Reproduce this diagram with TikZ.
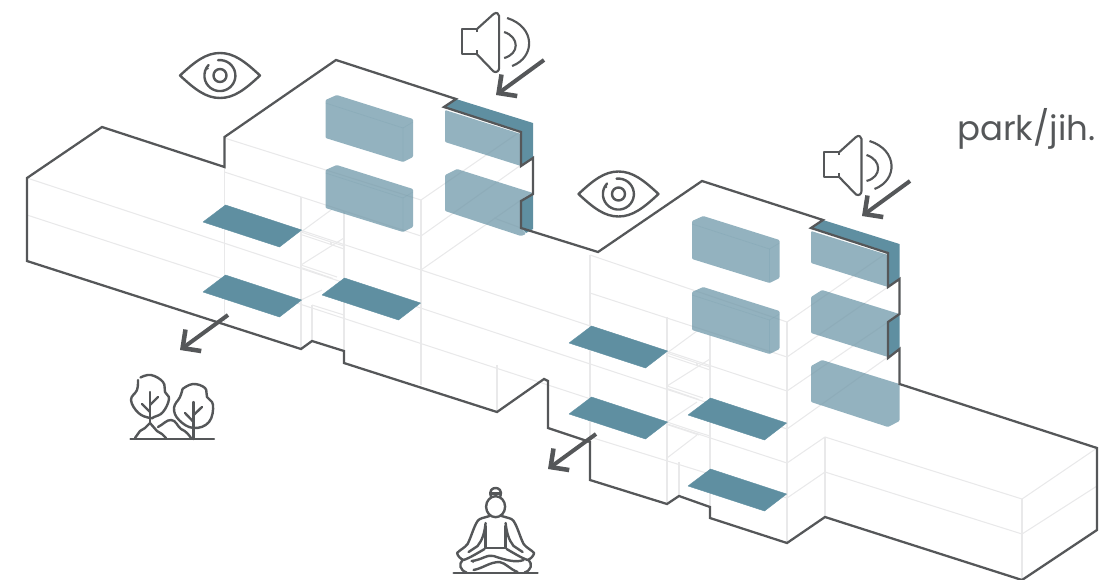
\documentclass[tikz,border=0pt]{standalone}
\usepackage{fontspec}
\setmainfont{Poppins}
\usetikzlibrary{arrows.meta}
\definecolor{ink}{HTML}{555759}
\definecolor{thin}{HTML}{E9E9EA}
\definecolor{slabc}{HTML}{5F8FA1}
\definecolor{panelc}{HTML}{6F98A9}
\newcommand{\halfbody}{%
    \draw[icon] (-6,516) .. controls (-12,518) and (-16,518) .. (-18,521) .. controls (-22,527) and (-24,536) .. (-28,544)
      .. controls (-31,548) and (-36,550) .. (-38.5,553) .. controls (-38,556) and (-35,559) .. (-32,560)
      .. controls (-26,558) and (-18,553) .. (-11,549);
    \draw[icon] (-10,523) .. controls (-11,532) and (-13,540) .. (-18,546) -- (-27,552);
    \draw[icon] (-10,526) -- (-10,548) -- (0,548);
    \draw[icon] (-33,560) .. controls (-37,564) and (-36,570) .. (-29,572.5);
}
\tikzset{
  outline/.style={draw=ink,line width=1.7pt,line join=miter},
  thinline/.style={draw=thin,line width=0.8pt},
  slab/.style={fill=slabc,draw=slabc,line width=0.3pt,line join=round},
  panel/.style={fill=panelc,fill opacity=0.75,draw=none,rounded corners=0.8pt},
  dark/.style={fill=slabc,draw=none},
  edge/.style={draw=slabc,draw opacity=0.15,line width=0.5pt},
  icon/.style={draw=ink,line width=1.8pt,line cap=round,line join=round,fill=none},
  icon2/.style={draw=ink,line width=1.6pt,line join=round,fill=none},
  pointer/.style={draw=ink,line width=3pt,-{Straight Barb[length=10pt,width=20pt,line width=3.4pt]}},
  eyeicon/.pic={
    \draw[icon] (-40,0) .. controls (-25,-14) and (-14,-22.5) .. (0,-22.5) .. controls (14,-22.5) and (25,-14) .. (40,0)
      .. controls (25,14) and (14,22.5) .. (0,22.5) .. controls (-14,22.5) and (-25,14) .. (-40,0) -- cycle;
    \draw[icon] (0,0) circle (6.5);
    \draw[icon] (-2,-15.3) arc[start angle=-97,end angle=-97+320,radius=15.5];
    \fill[ink] (-12.3,-7) circle (1.2);
  },
  speakericon/.pic={
    \draw[icon2] (15.4,3) -- (15.4,0) -- (0,0) -- (0,25.3) -- (15.4,25.3) -- (15.4,21);
    \draw[icon2] (15.4,0) -- (32,-15) .. controls (35,-17.5) and (37.5,-15) .. (37.5,-13) -- (37.5,39)
      .. controls (37.5,42) and (35,44) .. (32,42.5) -- (15.4,25.3);
    \draw[icon2] (42.5,3) .. controls (58,8) and (58,25) .. (42.5,29);
    \draw[icon2] (45.5,-11) .. controls (74,-2) and (74,28) .. (50.5,37);
  },
  treesicon/.pic={
    \draw[icon] (130.5,439) -- (214,439);
    \draw[icon] plot[smooth,tension=0.7] coordinates {(140.5,377.5) (151,375) (163,382) (165,392) (169,399) (163,412) (154,417) (150,418) (138.5,413) (131,400) (137,390) (138,380)};
    \draw[icon] (150,392) -- (150,423);
    \draw[icon] (150,412) -- (142,404);
    \draw[icon] (150,405) -- (158,397);
    \draw[icon] plot[smooth,tension=0.7] coordinates {(182.5,389) (193,384) (205,388) (207,397) (213,405) (209,422) (193.6,428) (179,420) (174,408) (180,397) (182.5,389)};
    \draw[icon] (193.6,402) -- (193.6,439);
    \draw[icon] (193.6,422) -- (185,413);
    \draw[icon] (193.6,415) -- (202,407);
    \draw[icon] (135,438) -- (140,431) -- (145,428) -- (150,423) -- (157,431) -- (162,434) -- (166,438);
    \draw[icon] (158,427) .. controls (164,424) and (166,420) .. (171,420) .. controls (176,420) and (177,426) .. (181,429) .. controls (186,431) and (189,435) .. (191,438);
  },
  personicon/.pic={
    \draw[icon] (-42,572.7) -- (42,572.7);
    \draw[icon] (0,506.7) ellipse (9.5 and 10.5);
    \draw[icon] (-4.5,497) .. controls (-7,490) and (-3,488) .. (0,488) .. controls (3,488) and (7,490) .. (4.5,497);
    \draw[icon] (-5,493.5) -- (5,493.5);
    \halfbody
    \begin{scope}[xscale=-1]\halfbody\end{scope}
    \draw[icon] (-24,561) .. controls (-14,560) and (-8,554) .. (-2,556) .. controls (10,560) and (20,563) .. (28,560);
    \draw[icon] (-22,570) .. controls (-12,568) and (-6,562) .. (4,562) .. controls (10,563) and (14,569) .. (22,572);
    \fill[ink] (-22.5,562) circle (1);
  }
}
\newcommand{\towerslants}{%
  \foreach \yy/\ex/\ey in {232/331/210,265/344/238}{
    \draw[thinline] (301,\yy) -- (\ex,\ey);
  }
  \draw[thinline] (301,232) -- (331,242) -- (344,246);
  \draw[thinline] (301,234.5) -- (331,244.5) -- (344,249);
  \draw[thinline] (331,242) -- (331,244.5);
  \draw[thinline] (301,265) -- (337,277);
  \draw[thinline] (301,267.5) -- (333,278.5);
}
\begin{document}
\begin{tikzpicture}[x=0.75pt,y=-0.75pt]
\useasboundingbox (0,0) rectangle (1099,579);
% ---- thin construction lines
\foreach \a/\b/\c/\d in {
  224.5/138/421/200, 421/200/521/131,
  224.5/172/421/236, 421/236/521/165,
  224.5/205/787/391, 421/270/521/200,
  27/178/787/429, 27/215/787/463,
  494/218/521/228,
  224.5/138/224.5/322, 301/197/301/349, 312/305/312/341, 344/211/344/351,
  421/200/421/385, 497/365/497/412,
  590/255/787/322, 787/322/888/252,
  590/293/787/357, 787/357/888/287,
  787/391/888/322, 787/429/888/357,
  590/437/787/498, 787/463/825/437, 787/498/825/472,
  825/437/1022/499, 825/472/1022/534, 1022/499/1097/448, 1022/534/1097/486,
  590/255/590/480, 667/317/667/504, 679/462/679/496, 710/335/710/507, 787/322/787/543,
  825/437/825/517, 1022/499/1022/579,
  312/305/344/315, 301/300/322/290}{
  \draw[thinline] (\a,\b) -- (\c,\d);
}
\towerslants
\begin{scope}[shift={(366,121)}]\towerslants\end{scope}
\begin{scope}[shift={(366,190)}]
  \draw[thinline] (301,232) -- (331,212);
  \draw[thinline] (301,232) -- (331,242) -- (344,246);
  \draw[thinline] (301,234.5) -- (333,245);
\end{scope}
\draw[thinline] (667,458) -- (697,435);
% ---- slabs
\foreach \dx/\dy in {0/0,0/70,119/73,366/121,366/192,485/193,485/264}{
  \begin{scope}[shift={(\dx,\dy)}]
    \filldraw[slab] (203,222) -- (225.5,205) -- (301.6,230) -- (279.5,247) -- cycle;
  \end{scope}
}
% ---- dark wall faces behind the panels
\fill[dark] (456,99) -- (533,123) -- (533,158) -- (521,166) -- (521,131) -- (444,107) -- cycle;
\fill[dark] (521,201) -- (533,194) -- (533,229) -- (526,233) -- (521,228) -- cycle;
\fill[dark] (823,220) -- (899.5,244) -- (899.5,279) -- (888,287) -- (888,252) -- (811,228) -- cycle;
\fill[dark] (888,322) -- (899.5,314) -- (899.5,349) -- (888,357) -- cycle;
% ---- translucent panels
\foreach \dx/\dy in {0/0,0/70,366.5/121,366.5/192}{
  \begin{scope}[shift={(\dx,\dy)}]
    \fill[panel] (325.5,100) -- (336.7,95) -- (413,119) -- (413,157) -- (403,162) -- (325.5,138) -- cycle;
    \draw[edge] (325.5,103) -- (403,128) -- (403,162);
    \draw[edge] (403,128) -- (413,122);
  \end{scope}
}
\fill[panel] (445,110) -- (521,134) -- (521,166) -- (445,142) -- cycle;
\fill[panel] (445,175) -- (457,169) -- (533,193) -- (521,201) -- (521,228) -- (526,234) -- (521,236) -- (445,211) -- cycle;
\fill[panel] (811,231) -- (888,255) -- (888,287) -- (811,263) -- cycle;
\fill[panel] (811,297) -- (822,290) -- (899.5,314) -- (888,322) -- (888,357) -- (811,333) -- cycle;
\fill[panel] (811,366) -- (822,360) -- (899.5,384) -- (899.5,421) -- (888,427) -- (811,402) -- cycle;
% ---- building outline
\draw[outline] (27,178) -- (102,127) -- (224.5,167) -- (224.5,137) -- (336,60) -- (456,99) -- (444,107)
  -- (521,132) -- (521,166) -- (533,158) -- (533,194) -- (521,201) -- (521,228) -- (598,252)
  -- (702,181) -- (823,220) -- (811,228) -- (888,253) -- (888,287) -- (899.5,279) -- (899.5,314)
  -- (888,322) -- (888,358) -- (899.5,349) -- (899.5,384) -- (1097,448) -- (1097,530) -- (1022,580)
  -- (825,517) -- (787,543) -- (710,518) -- (710,507) -- (679,496) -- (667,504) -- (590,480)
  -- (590,442) -- (548,428) -- (548,381) -- (544,379) -- (497,412) -- (344,363) -- (344,351)
  -- (312,341) -- (301,349) -- (27,261) -- cycle;
% ---- icons
\pic at (220,75.5) {eyeicon};
\pic at (618.5,194) {eyeicon};
\pic at (461.6,29) {speakericon};
\pic at (824,152) {speakericon};
\pic at (0,0) {treesicon};
\pic at (495.6,0) {personicon};
% ---- arrows
\coordinate (a1s) at (544,60);  \coordinate (a1e) at (496,95);
\coordinate (a2s) at (910,181); \coordinate (a2e) at (862,216);
\coordinate (a3s) at (228,315); \coordinate (a3e) at (180,350);
\coordinate (a4s) at (596,434); \coordinate (a4e) at (548,469);
\draw[pointer] (a1s) -- (a1e);
\draw[pointer] (a2s) -- (a2e);
\draw[pointer] (a3s) -- (a3e);
\draw[pointer] (a4s) -- (a4e);
% ---- text
\node[anchor=base west,inner sep=0pt,text=ink,font=\fontsize{25.5}{30}\selectfont] (lab) at (957,140) {park/jih.};
\end{tikzpicture}
\end{document}
